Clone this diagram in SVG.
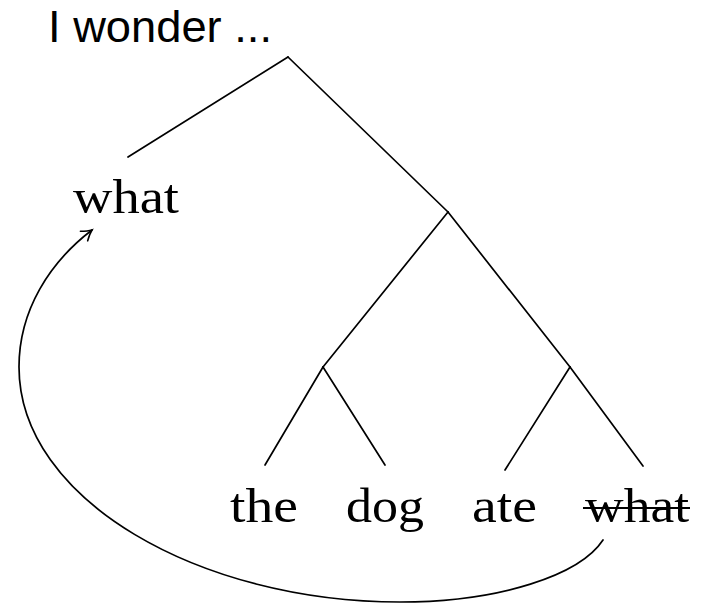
<svg xmlns="http://www.w3.org/2000/svg" width="708" height="604" viewBox="0 0 708 604">
<style>
.t{font-family:"Liberation Serif","Times New Roman",serif;font-size:48px;fill:#000}
.h{font-family:"Liberation Sans",Arial,sans-serif;font-size:45px;fill:#000}
.e{stroke:#000;stroke-width:1.7;fill:none;stroke-linecap:round}
</style>
<defs>
<marker id="arr" markerUnits="userSpaceOnUse" markerWidth="20" markerHeight="20" viewBox="-12 -10 14 20" refX="0" refY="0" orient="auto">
<path d="M-10,-6 Q-4,-1.5 0,0 Q-4,1.5 -10,6" fill="none" stroke="#000" stroke-width="1.6" stroke-linecap="round"/>
</marker>
</defs>
<rect width="708" height="604" fill="#fff"/>
<g id="title"><text class="h" x="48" y="42" textLength="224" lengthAdjust="spacingAndGlyphs">I wonder ...</text></g>
<g id="connectors">
<line class="e" x1="288" y1="57" x2="128" y2="157"/>
<line class="e" x1="288" y1="57" x2="448" y2="212"/>
<line class="e" x1="448" y1="212" x2="323" y2="367"/>
<line class="e" x1="448" y1="212" x2="570" y2="367"/>
<line class="e" x1="323" y1="367" x2="265" y2="465"/>
<line class="e" x1="323" y1="367" x2="385" y2="465"/>
<line class="e" x1="570" y1="367" x2="505" y2="470"/>
<line class="e" x1="570" y1="367" x2="643" y2="466"/>
<path class="e" d="M603,540 C580,575 500,602 400,602 C200,602 19,500 19,367 C19,310 50,262 92,230" marker-end="url(#arr)"/>
</g>
<g id="n-what-moved"><text class="t" x="73" y="213" textLength="106" lengthAdjust="spacingAndGlyphs">what</text></g>
<g id="n-the"><text class="t" x="230" y="522" textLength="68" lengthAdjust="spacingAndGlyphs">the</text></g>
<g id="n-dog"><text class="t" x="346" y="522" textLength="78" lengthAdjust="spacingAndGlyphs">dog</text></g>
<g id="n-ate"><text class="t" x="472" y="522" textLength="65" lengthAdjust="spacingAndGlyphs">ate</text></g>
<g id="n-what-trace"><text class="t" x="585" y="522" textLength="104" lengthAdjust="spacingAndGlyphs">what</text>
<line x1="583" y1="508" x2="690" y2="508" stroke="#000" stroke-width="1.8"/></g>
</svg>
